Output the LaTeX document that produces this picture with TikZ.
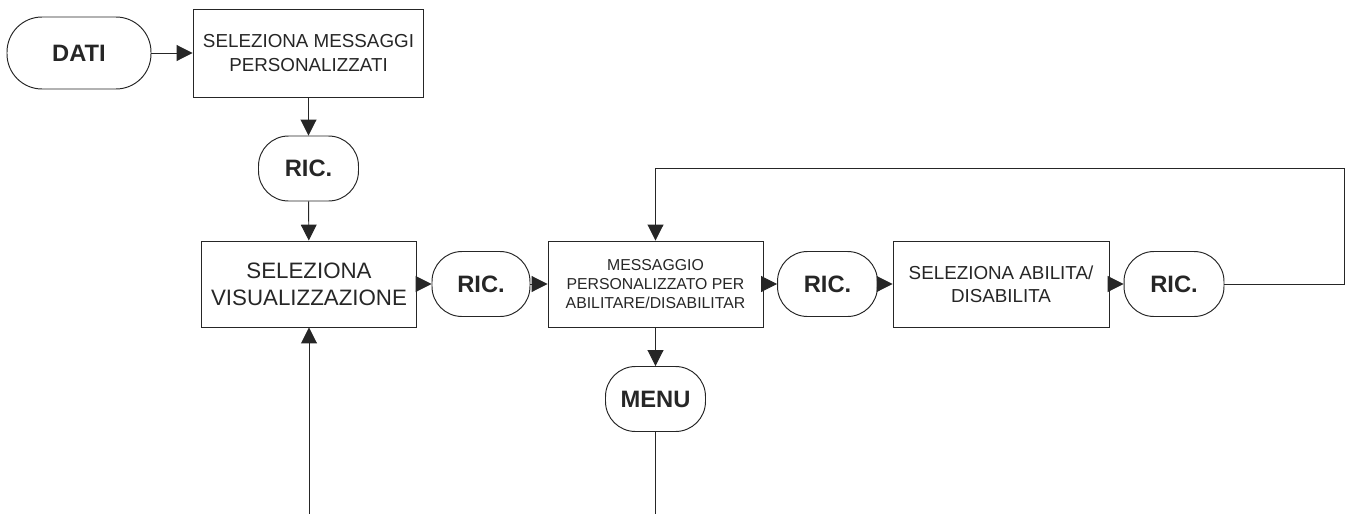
\documentclass[tikz,border=0pt]{standalone}
\usepackage{fontspec}
\setmainfont{Liberation Sans}
\usetikzlibrary{arrows.meta}

\tikzset{
  blk/.style={draw, rectangle, align=center, minimum width=4.3cm, minimum height=1.72cm, inner sep=1pt},
  term/.style={draw, rectangle, rounded corners=0.6cm, minimum width=2cm, minimum height=1.3cm,
    font=\fontsize{13.5}{16}\selectfont\bfseries},
  flow/.style={-{Triangle[length=9pt,width=9pt]}}
}

\begin{document}
\begin{tikzpicture}[x=0.02cm, y=-0.02cm, line width=0.55pt, color=black!85]

  \useasboundingbox (0,0) rectangle (1346,514);

  % Top column
  \node[term, rounded corners=0.7cm, minimum width=2.88cm, minimum height=1.44cm] (dati) at (79,53) {DATI};
  \node[blk, minimum width=4.62cm, minimum height=1.76cm, font=\fontsize{10.7}{13.8}\selectfont] (selmsg) at (308.5,53)
    {SELEZIONA MESSAGGI\\PERSONALIZZATI};
  \node[term] (ric1) at (308.5,168.5) {RIC.};

  % Main row
  \node[blk, minimum width=4.32cm, font=\fontsize{12.7}{15.2}\selectfont] (selvis) at (309,284)
    {SELEZIONA\\VISUALIZZAZIONE};
  \node[term, minimum width=1.96cm] (ric2) at (481,284) {RIC.};
  \node[blk, font=\fontsize{9}{11}\selectfont] (msg) at (655.5,284)
    {MESSAGGIO\\PERSONALIZZATO PER\\ABILITARE/DISABILITAR};
  \node[term] (ric3) at (827.5,284) {RIC.};
  \node[blk, minimum width=4.32cm, font=\fontsize{10.7}{13}\selectfont] (selab) at (1001,284)
    {SELEZIONA ABILITA/\\DISABILITA};
  \node[term] (ric4) at (1174,284) {RIC.};

  % Below
  \node[term] (menu) at (655.5,399) {MENU};

  % Loose ends
  \coordinate (loopR) at (1344,168);
  \coordinate (inVis) at (selvis.south |- 0,514);
  \coordinate (outMenu) at (menu.south |- 0,514);

  % Vertical flows
  \draw[flow] (dati) -- (selmsg);
  \draw[flow] (selmsg) -- (ric1);
  \draw[flow] (ric1) -- (selvis);
  \draw[flow] (inVis) -- (selvis);
  \draw[flow] (msg) -- (menu);
  \draw (menu) -- (outMenu);

  % Horizontal flows
  \foreach \a/\b in {selvis/ric2, ric2/msg, msg/ric3, ric3/selab, selab/ric4}
    {\draw[flow] (\a) -- (\b);}

  % Back loop
  \draw[flow] (ric4.east) -| (loopR) -| (msg.north);

\end{tikzpicture}
\end{document}
